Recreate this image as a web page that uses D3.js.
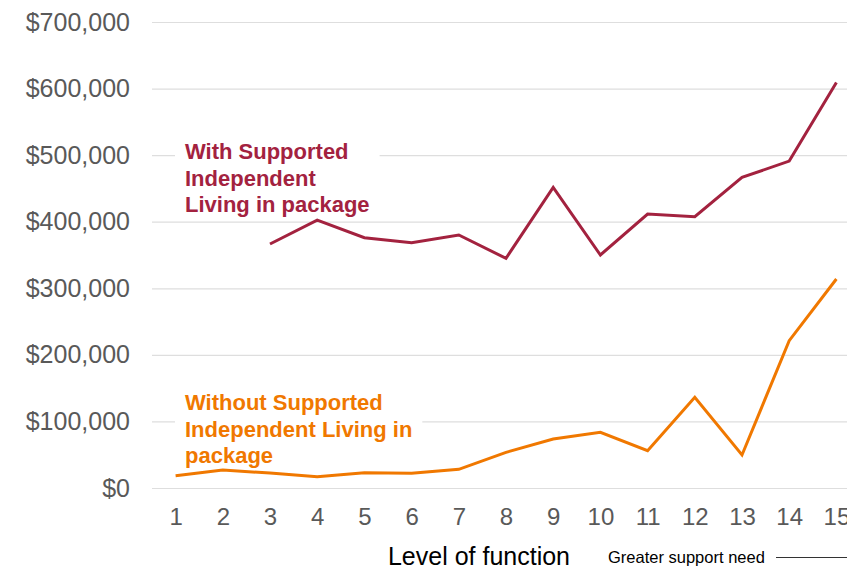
<!DOCTYPE html>
<html>
<head>
<meta charset="utf-8">
<script src="https://cdn.jsdelivr.net/npm/d3@7"></script>
<style>
  body { margin: 0; background: #fff; }
  svg { font-family: "Liberation Sans", Arial, sans-serif; display: block; }
</style>
</head>
<body>
<div id="chart"></div>
<script>
// chart data
let levels = [1, 2, 3, 4, 5, 6, 7, 8, 9, 10, 11, 12, 13, 14, 15];
let withSIL = [null, null, 366500, 402500, 376000, 368500, 380000, 345000, 451500, 350000, 411500, 407500, 466500, 491000, 609000];
let withoutSIL = [18500, 27000, 22500, 17000, 23000, 22000, 28000, 53600, 73600, 83700, 56000, 136200, 49600, 221300, 314000];
let yTicks = [0, 100000, 200000, 300000, 400000, 500000, 600000, 700000];

let svgWidth = 847;
let svgHeight = 568;

// plot area (runs past the right edge, like the original)
let margin = { top: 22, left: 152, bottom: 80 };
let plotRight = 860;
let height = svgHeight - margin.top - margin.bottom;

let svg = d3.select('#chart')
  .append('svg')
  .attr('width', svgWidth)
  .attr('height', svgHeight);

let x = d3.scalePoint()
  .domain(levels)
  .range([margin.left, plotRight])
  .padding(0.5);

let y = d3.scaleLinear()
  .domain([0, 700000])
  .range([margin.top + height, margin.top]);

// gridlines
let yAxis = d3.axisLeft(y)
  .tickValues(yTicks)
  .tickSize(-(plotRight - margin.left))
  .tickPadding(22)
  .tickFormat(d => '$' + d3.format(',')(d));

let yG = svg.append('g')
  .attr('transform', `translate(${margin.left},0)`)
  .call(yAxis);
yG.select('.domain').remove();
yG.selectAll('.tick line').attr('stroke', '#dedede').attr('stroke-width', 1.2);
yG.selectAll('.tick text')
  .attr('fill', '#595959')
  .attr('font-size', '25px');

// x axis labels
let xAxis = d3.axisBottom(x).tickSize(0).tickPadding(20);
let xG = svg.append('g')
  .attr('transform', `translate(0,${margin.top + height})`)
  .call(xAxis);
xG.select('.domain').remove();
xG.selectAll('.tick text')
  .attr('fill', '#595959')
  .attr('font-size', '24px');

// series labels, with white boxes behind them
function addLabel(lines, color, lx, ly) {
  let g = svg.append('g');
  let bg = g.append('rect').attr('fill', '#fff');
  let t = g.append('text')
    .attr('fill', color)
    .attr('font-size', '22px')
    .attr('font-weight', 'bold');
  lines.forEach((s, i) => {
    t.append('tspan').attr('x', lx).attr('y', ly + i * 26.5).text(s);
  });
  let bb = t.node().getBBox();
  bg.attr('x', bb.x - 10).attr('y', bb.y - 2)
    .attr('width', bb.width + 20).attr('height', bb.height + 2);
}

addLabel(['With Supported', 'Independent', 'Living in package'], '#a3223f', 185, 159);
addLabel(['Without Supported', 'Independent Living in', 'package'], '#f07800', 185, 410);

// lines
let line = d3.line()
  .defined(d => d[1] !== null)
  .x(d => x(d[0]))
  .y(d => y(d[1]));

svg.append('path')
  .datum(levels.map((l, i) => [l, withSIL[i]]))
  .attr('fill', 'none')
  .attr('stroke', '#a3223f')
  .attr('stroke-width', 3)
  .attr('d', line);

svg.append('path')
  .datum(levels.map((l, i) => [l, withoutSIL[i]]))
  .attr('fill', 'none')
  .attr('stroke', '#f07800')
  .attr('stroke-width', 3)
  .attr('d', line);

// axis titles
svg.append('text')
  .attr('x', 479)
  .attr('y', 565)
  .attr('text-anchor', 'middle')
  .attr('font-size', '25px')
  .attr('fill', '#000')
  .text('Level of function');

svg.append('text')
  .attr('x', 608)
  .attr('y', 563)
  .attr('font-size', '16.5px')
  .attr('fill', '#000')
  .text('Greater support need');

svg.append('line')
  .attr('x1', 776).attr('x2', 847)
  .attr('y1', 557.5).attr('y2', 557.5)
  .attr('stroke', '#333')
  .attr('stroke-width', 1);
</script>
</body>
</html>
